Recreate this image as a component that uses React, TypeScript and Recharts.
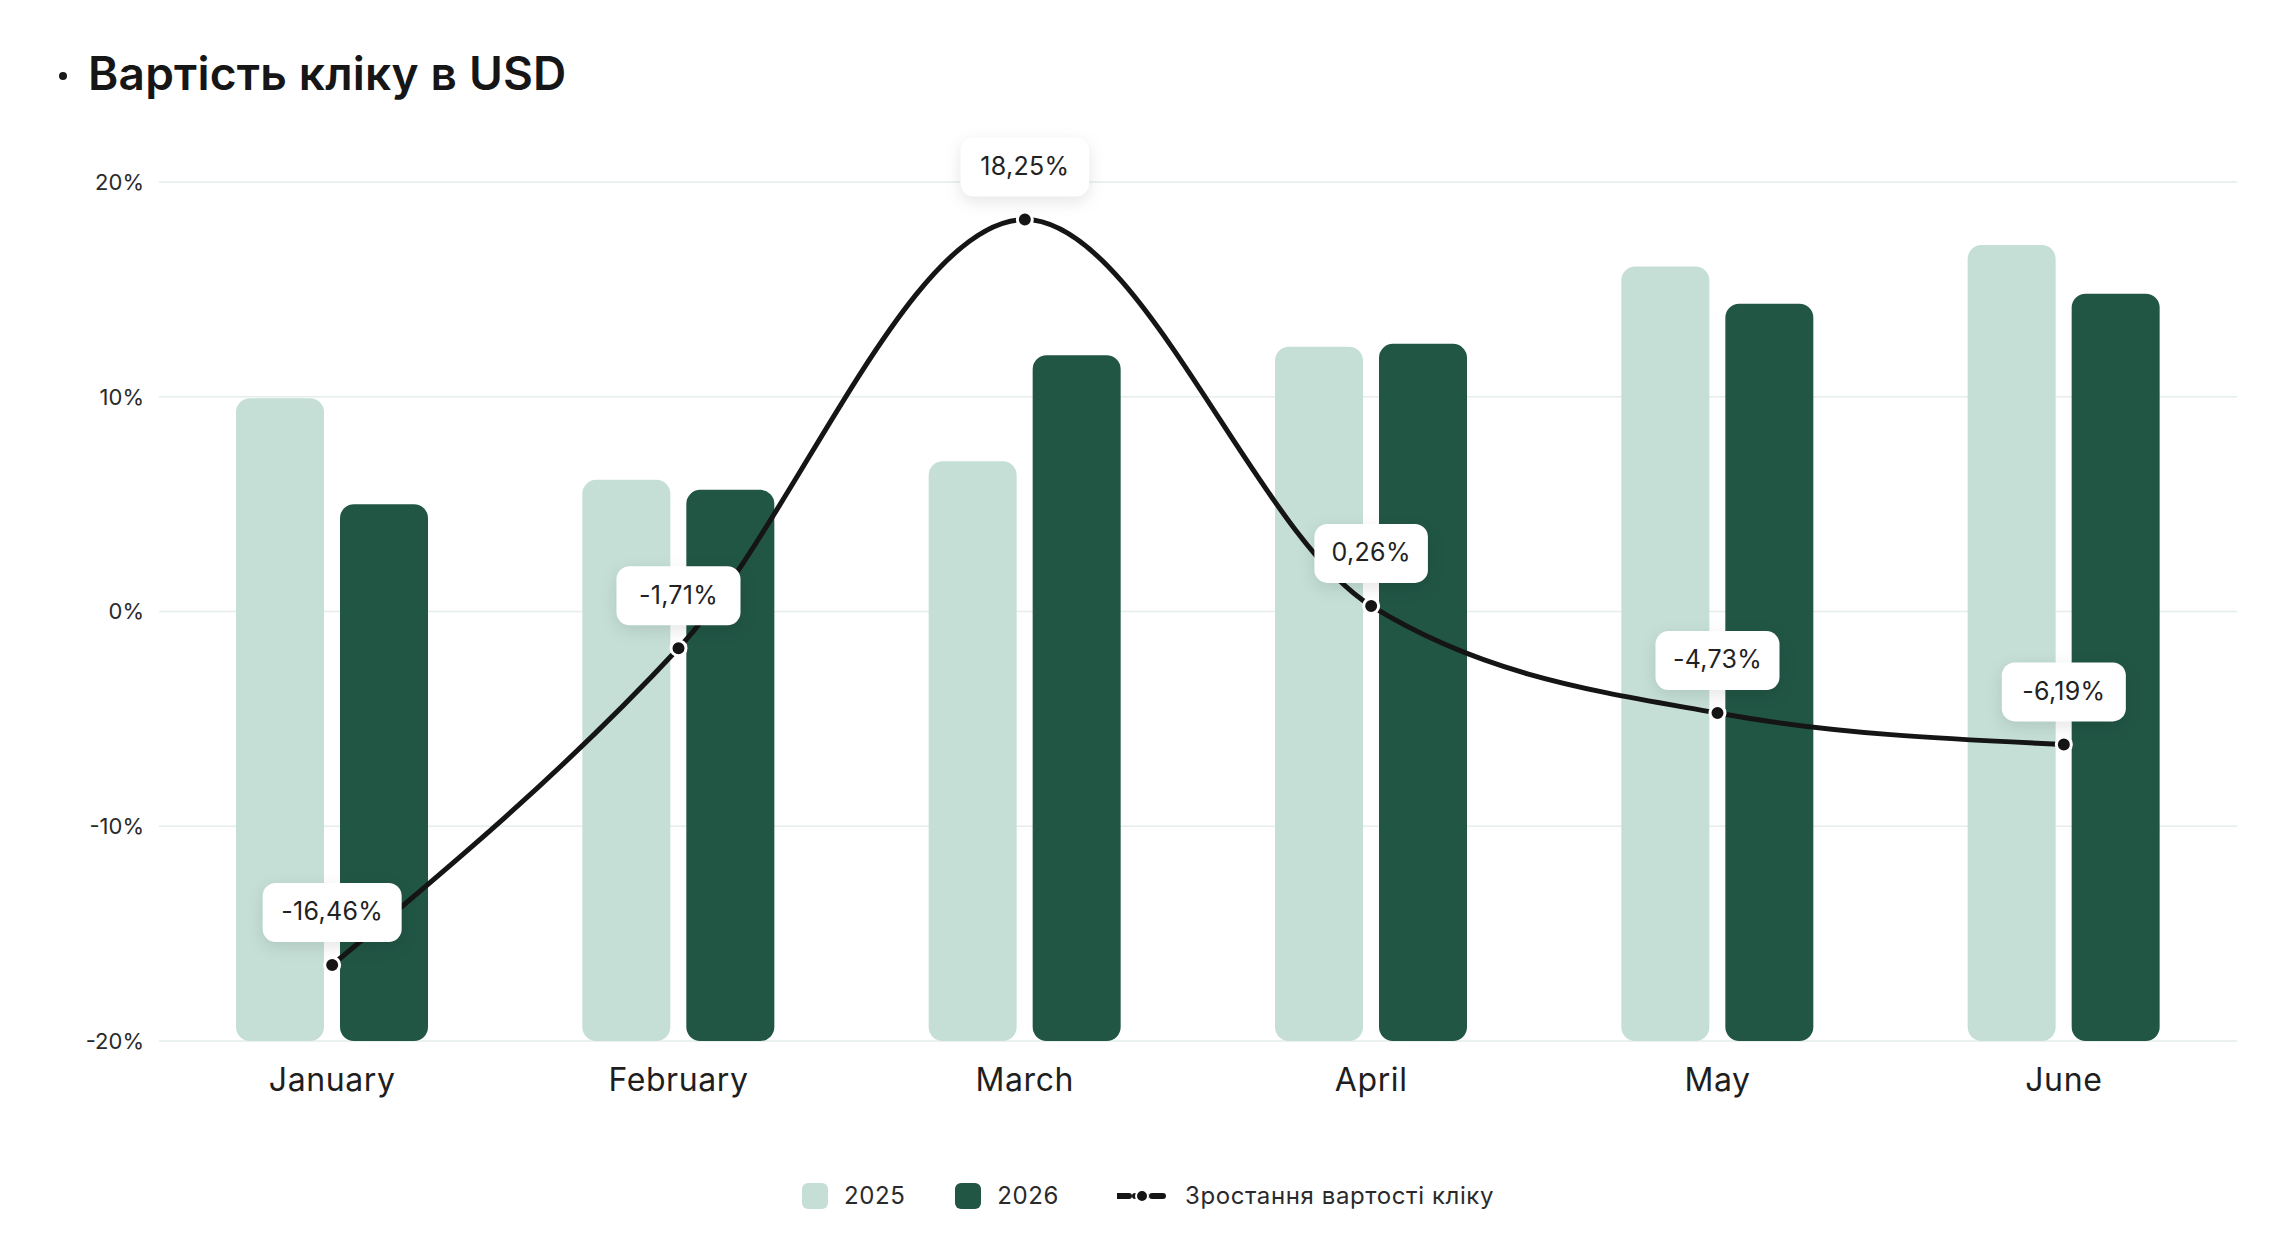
import { ComposedChart, Bar, Line, XAxis, YAxis, CartesianGrid, LabelList } from "recharts";

const months = ["January", "February", "March", "April", "May", "June"];
const cpc2025 = [0.449, 0.392, 0.405, 0.485, 0.541, 0.556];
const cpc2026 = [0.375, 0.385, 0.479, 0.487, 0.515, 0.522];
const growth = [-16.46, -1.71, 18.25, 0.26, -4.73, -6.19];
const pctTicks = [-20, -10, 0, 10, 20];

const data = months.map((m, i) => ({
  month: m,
  y2025: cpc2025[i],
  y2026: cpc2026[i],
  growth: growth[i],
}));

const LIGHT = "#C5DFD6";
const DARK = "#215645";
const INK = "#151515";
const FONT = "Inter, 'Noto Sans', sans-serif";

const fmt = (v: number) => v.toFixed(2).replace(".", ",") + "%";

// rough text width for the label boxes
const textWidth = (s: string, size: number) => {
  let w = 0;
  for (const ch of s) {
    if (ch === ",") w += 0.28;
    else if (ch === "-") w += 0.42;
    else if (ch === "%") w += 0.86;
    else w += 0.6;
  }
  return w * size;
};

function ValueLabel(props: any) {
  const { x, y, value } = props;
  const text = fmt(value);
  const fs = 25;
  const w = textWidth(text, fs) + 40;
  const h = 59;
  const bx = x - w / 2;
  const by = y - 23 - h;
  return (
    <g>
      <rect
        x={bx}
        y={by}
        width={w}
        height={h}
        rx={13}
        fill="#fff"
        style={{ filter: "drop-shadow(0px 5px 8px rgba(0,0,0,0.10))" }}
      />
      <text
        x={x}
        y={by + h / 2 + 1}
        textAnchor="middle"
        dominantBaseline="middle"
        fontSize={fs}
        fontFamily={FONT}
        letterSpacing={0.3}
        fill="#222"
      >
        {text}
      </text>
    </g>
  );
}

function Dot(props: any) {
  const { cx, cy } = props;
  return <circle cx={cx} cy={cy} r={7.5} fill={INK} stroke="#fff" strokeWidth={3} />;
}

function LegendRow() {
  const item = { display: "flex", alignItems: "center", gap: 16 } as const;
  const sw = (c: string) => (
    <span style={{ width: 26, height: 26, borderRadius: 6, background: c, display: "inline-block" }} />
  );
  return (
    <div
      style={{
        position: "absolute",
        left: 0,
        width: 2296,
        top: 1179,
        display: "flex",
        justifyContent: "center",
        gap: 50,
        fontFamily: FONT,
        fontSize: 24,
        letterSpacing: 0.6,
        color: "#2a2a2a",
        lineHeight: "34px",
      }}
    >
      <div style={item}>
        {sw(LIGHT)}
        <span>2025</span>
      </div>
      <div style={item}>
        {sw(DARK)}
        <span>2026</span>
      </div>
      <div style={{ ...item, marginLeft: 8, gap: 18 }}>
        <svg width={50} height={14}>
          <line x1={1} y1={7} x2={49} y2={7} stroke={INK} strokeWidth={6} strokeDasharray="11 6" strokeLinecap="round" />
          <circle cx={25} cy={7} r={6} fill={INK} stroke="#fff" strokeWidth={2} />
        </svg>
        <span>Зростання вартості кліку</span>
      </div>
    </div>
  );
}

export default function App() {
  return (
    <div style={{ position: "absolute", left: 0, top: 0, width: 2296, height: 1246, background: "#fff" }}>
      <div
        style={{
          position: "absolute",
          left: 59,
          top: 72,
          width: 8,
          height: 8,
          borderRadius: 4,
          background: "#1a1a1a",
        }}
      />
      <div
        style={{
          position: "absolute",
          left: 88,
          top: 50,
          fontFamily: FONT,
          fontWeight: 600,
          fontSize: 46,
          lineHeight: 1,
          color: "#161616",
          letterSpacing: 0.2,
        }}
      >
        Вартість кліку в USD
      </div>
      <ComposedChart
        width={2296}
        height={1246}
        data={data}
        margin={{ top: 182, right: 59, bottom: 125, left: 0 }}
        barSize={88}
        barGap={16}
      >
        <CartesianGrid yAxisId="pct" vertical={false} stroke="#E5EEE8" strokeWidth={1.5} />
        <XAxis
          dataKey="month"
          axisLine={false}
          tickLine={false}
          height={80}
          tickMargin={21}
          tick={{ fontSize: 32, fill: "#1e1e1e", fontFamily: FONT, letterSpacing: 0.6 }}
        />
        <YAxis
          yAxisId="pct"
          domain={[-20, 20]}
          ticks={pctTicks}
          width={159}
          axisLine={false}
          tickLine={false}
          tickMargin={9}
          tickFormatter={(v: number) => `${v}%`}
          tick={{ fontSize: 22, fill: "#2a2a2a", fontFamily: FONT }}
        />
        <YAxis yAxisId="cpc" orientation="right" hide domain={[0, 0.6]} />
        <Bar yAxisId="cpc" dataKey="y2025" fill={LIGHT} radius={14} isAnimationActive={false} />
        <Bar yAxisId="cpc" dataKey="y2026" fill={DARK} radius={14} isAnimationActive={false} />
        <Line
          yAxisId="pct"
          type="monotone"
          dataKey="growth"
          stroke={INK}
          strokeWidth={5}
          dot={<Dot />}
          activeDot={false}
          isAnimationActive={false}
        >
          <LabelList dataKey="growth" content={<ValueLabel />} />
        </Line>
      </ComposedChart>
      <LegendRow />
    </div>
  );
}
